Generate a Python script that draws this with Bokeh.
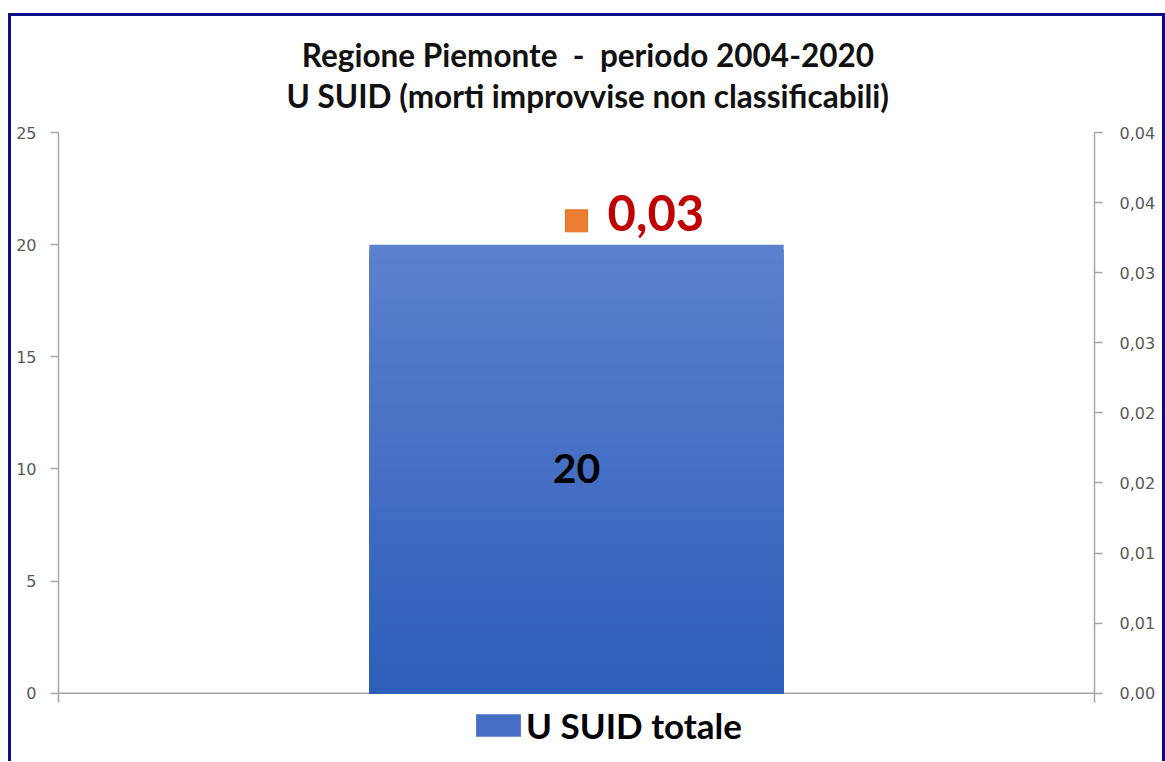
import numpy as np
from bokeh.plotting import figure
from bokeh.models import (Range1d, LinearAxis, FixedTicker, CustomJSTickFormatter,
                          Title, Legend, LegendItem)
from bokeh.core.properties import value
from bokeh.embed import file_html
from bokeh.resources import INLINE

# ---------------- data ----------------
title_lines = ["Regione Piemonte  -  periodo 2004-2020",
               "U SUID (morti improvvise non classificabili)"]
categories = ["U SUID totale"]
counts = [20]
rates = [0.0337]
rate_labels = ["0,03"]
left_ticks = [0, 5, 10, 15, 20, 25]
right_ticks = [0, 0.005, 0.01, 0.015, 0.02, 0.025, 0.03, 0.035, 0.04]
left_max = 25
right_max = 0.04

# ---------------- styles / layout ----------------
AXIS_COL = "#a6a6a6"
TICK_COL = "#595959"
FRAME_COL = "#0d0d8c"
TOP_COL = np.array([0x5c, 0x81, 0xce])
BOT_COL = np.array([0x2d, 0x5e, 0xb9])

# the plotting frame reaches down to the canvas bottom so that the legend
# (drawn inside the frame) can sit below the zero line
left_min = -3.175                       # room under zero for the legend
right_min = left_min / left_max * right_max
stub = 0.4                              # short axis extension below zero

W, H = 1151, 745
p = figure(width=W, height=H, output_backend="svg", toolbar_location=None,
           x_range=Range1d(0, len(categories)), y_range=Range1d(left_min, left_max),
           x_axis_location=None,
           min_border_left=47, min_border_right=74, min_border_top=115,
           min_border_bottom=0)
p.styles = {"box-sizing": "content-box",
            "border-top": f"3px solid {FRAME_COL}",
            "border-left": f"3px solid {FRAME_COL}",
            "border-right": f"3px solid {FRAME_COL}",
            "margin-left": "8px", "margin-top": "13px"}
p.xgrid.visible = False
p.ygrid.visible = False
p.outline_line_color = None
p.background_fill_color = "white"
p.border_fill_color = "white"

# left axis
ya = p.yaxis[0]
ya.ticker = FixedTicker(ticks=left_ticks)
ya.bounds = (-stub, left_max)
ya.major_tick_out = 8
ya.major_tick_in = 0
ya.minor_tick_line_color = None
ya.axis_line_color = AXIS_COL
ya.axis_line_width = 1.5
ya.major_tick_line_color = AXIS_COL
ya.major_tick_line_width = 1.5
ya.major_label_text_font = "DejaVu Sans"
ya.major_label_text_font_size = "16px"
ya.major_label_text_color = TICK_COL
ya.major_label_standoff = 14

# right axis
p.extra_y_ranges = {"rate": Range1d(right_min, right_max)}
ra = LinearAxis(y_range_name="rate", ticker=FixedTicker(ticks=right_ticks),
                formatter=CustomJSTickFormatter(
                    code="return (Math.round(tick*100 + 1e-9)/100).toFixed(2).replace('.', ',');"))
ra.bounds = (-stub / left_max * right_max, right_max)
ra.major_tick_out = 8
ra.major_tick_in = 0
ra.minor_tick_line_color = None
ra.axis_line_color = AXIS_COL
ra.axis_line_width = 1.5
ra.major_tick_line_color = AXIS_COL
ra.major_tick_line_width = 1.5
ra.major_label_text_font = "DejaVu Sans"
ra.major_label_text_font_size = "16px"
ra.major_label_text_color = TICK_COL
ra.major_label_standoff = 17
p.add_layout(ra, "right")

# category (zero) line
p.segment(x0=[0], y0=[0], x1=[len(categories)], y1=[0],
          line_color=AXIS_COL, line_width=1.5)

# bars: vertical gradient from overlapping strips (largest drawn first)
N = 90
xs, tops, cols = [], [], []
for i, c in enumerate(counts):
    edges = np.linspace(0, c, N + 1)
    for j in range(N, 0, -1):
        t = (j - 0.5) / N
        rgb = BOT_COL + (TOP_COL - BOT_COL) * t
        xs.append(i + 0.5)
        tops.append(edges[j])
        cols.append("#%02x%02x%02x" % tuple(int(round(v)) for v in rgb))
bar_r = p.vbar(x=xs, bottom=0, top=tops, width=0.4, fill_color=cols, line_color=None)

p.text(x=[i + 0.5 for i in range(len(counts))], y=[c / 2 for c in counts],
       text=[str(c) for c in counts], text_align="center", text_baseline="middle",
       text_font=value("Lato"), text_font_style="bold", text_font_size="41px",
       text_color="black")

# rate marker + label
p.scatter(x=[i + 0.5 for i in range(len(rates))], y=rates, marker="square", size=22,
          fill_color="#ed7d31", line_color="#e0701f", y_range_name="rate")
p.text(x=[i + 0.5 for i in range(len(rates))], y=rates, text=rate_labels,
       x_offset=31, y_offset=-8, text_align="left", text_baseline="middle",
       text_font=value("Lato"), text_font_style="bold", text_font_size="49px",
       text_color="#c00000", y_range_name="rate")

# two-line title (lines of a multi-line title are left aligned, so the shorter
# first line is indented with non-breaking spaces to look centred; double
# spaces are kept visible with a non-breaking space)
line1 = title_lines[0].replace("  ", " \u00a0")
title_text = "\u00a0\u00a0" + line1 + "\n" + title_lines[1]
p.add_layout(Title(text=title_text, align="left", offset=228, text_font="Lato",
                   text_font_style="bold", text_font_size="31.5px",
                   text_line_height=1.10, text_color="#111111", standoff=34),
             "above")

# legend under the zero line (area glyphs are drawn inset by 10 %)
legend = Legend(items=[LegendItem(label=categories[0], renderers=[bar_r], index=N // 2)],
                location=(412, 18), orientation="horizontal",
                border_line_color=None, background_fill_alpha=0,
                label_text_font="Lato", label_text_font_style="bold",
                label_text_font_size="35px", label_text_color="black",
                glyph_width=56, glyph_height=28, label_standoff=0,
                padding=0, margin=0, spacing=0)
p.add_layout(legend)

open("out.html", "w").write(file_html(p, INLINE))
